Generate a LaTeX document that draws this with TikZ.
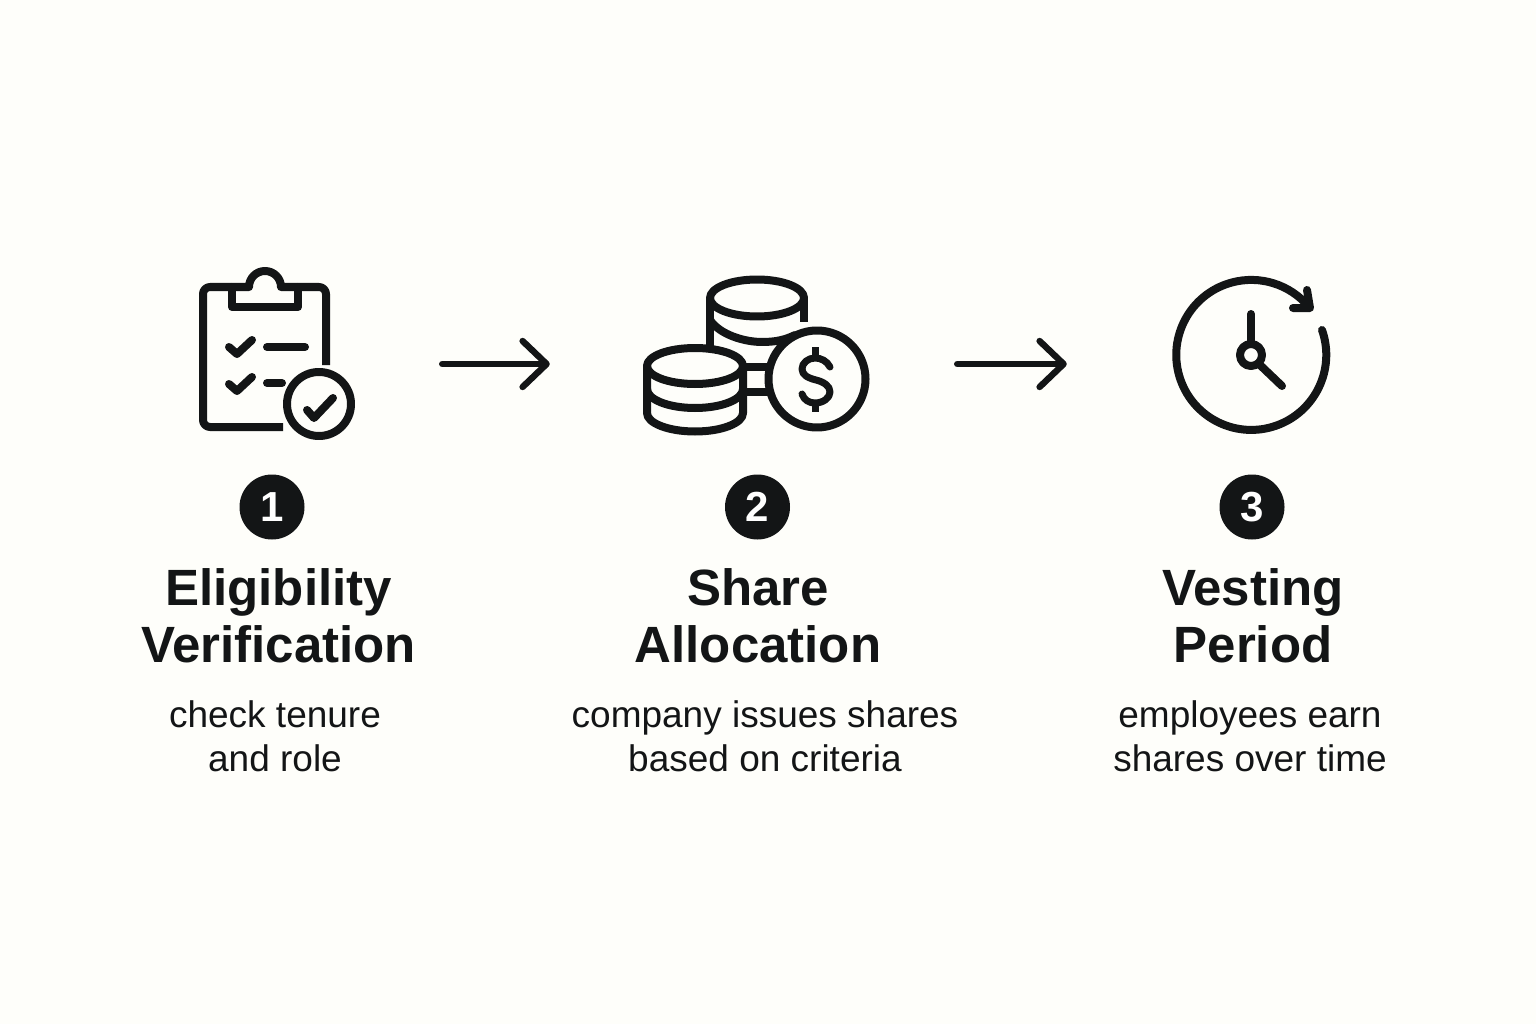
\documentclass[tikz,border=0pt]{standalone}
\usepackage{fontspec}
\setmainfont{Liberation Sans}
\usetikzlibrary{arrows.meta}
\definecolor{bgc}{HTML}{FEFEFA}
\definecolor{ink}{HTML}{131516}
\tikzset{
  iconline/.style={draw=ink,line width=8pt,line cap=round,line join=round},
  thinline/.style={draw=ink,line width=7pt,line cap=round,line join=round},
  iconbox/.style={inner sep=0pt,minimum height=160pt},
  flow/.style={draw=ink,line width=6.4pt,line cap=round,line join=round,-{Straight Barb[length=24pt,width=46pt,line width=6.4pt,round]}},
  badge/.style={circle,fill=ink,text=white,minimum size=65pt,inner sep=0pt,font=\fontsize{42}{42}\selectfont\bfseries},
  heading/.style={text=ink,align=center,inner sep=0pt,font=\fontsize{51}{57}\selectfont\bfseries},
  body/.style={text=ink,align=center,inner sep=0pt,font=\fontsize{37}{44}\selectfont}
}
\begin{document}
\begin{tikzpicture}[x=1pt,y=-1pt]
\path[fill=bgc] (0,0) rectangle (1536,1024);
\useasboundingbox (0,0) rectangle (1536,1024);

% anchor boxes for the icons
\node[iconbox,minimum width=334pt] (icon1) at (275,364) {};
\node[iconbox,minimum width=407pt] (icon2) at (753.5,364) {};
\node[iconbox,minimum width=368pt] (icon3) at (1251,364) {};

% clipboard
\draw[iconline,line cap=butt] (326,365) -- (326,294) arc[start angle=0,end angle=-90,radius=7] -- (281,287)
  arc[start angle=0,end angle=-180,radius=16] -- (210,287)
  arc[start angle=-90,end angle=-180,radius=7] -- (203,420)
  arc[start angle=180,end angle=90,radius=7] -- (283,427);
\draw[iconline] (232,287) -- (232,307) -- (298,307) -- (298,287);
\draw[iconline] (229,347) -- (237,354) -- (252,340);
\draw[iconline] (267,347) -- (305,347);
\draw[iconline] (229,384) -- (237,391) -- (252,377);
\draw[iconline] (267,383) -- (282,383);
\draw[iconline] (319,404) circle[radius=32];
\draw[iconline] (307,410) -- (314,418) -- (333,398);

% coins: back stack
\draw[iconline] (757,298) ellipse[x radius=47,y radius=18.5];
\draw[iconline,line cap=butt] (710,298) -- (710,346);
\draw[iconline,line cap=butt] (804,298) -- (804,322);
\draw[iconline] (710,320) .. controls (720,335) and (745,342) .. (762,342) .. controls (775,342) and (785,340) .. (795,335);
\draw[iconline,line cap=butt] (745,367) -- (772,367);
\draw[iconline,line cap=butt] (745,392) -- (772,392);
% coins: front stack
\draw[iconline,fill=bgc] (695,366) ellipse[x radius=48,y radius=18];
\draw[iconline] (647,366) -- (647,413) arc[start angle=180,end angle=0,x radius=48,y radius=18.5] -- (743,366);
\draw[iconline] (647,389) arc[start angle=180,end angle=0,x radius=48,y radius=19];
% coin
\draw[iconline,fill=bgc] (817,379) circle[radius=48.5];
\draw[thinline] (830,367) .. controls (827,361) and (821,358) .. (815,358)
  .. controls (808,358) and (802,363) .. (802,369)
  .. controls (802,375) and (808,378) .. (816,380)
  .. controls (824,382) and (830,386) .. (830,392)
  .. controls (830,398) and (823,403) .. (815,403)
  .. controls (809,403) and (804,400) .. (802,394);
\draw[thinline,line cap=butt] (815,347) -- (815,358);
\draw[thinline,line cap=butt] (815,403) -- (815,412);

% clock
\draw[iconline] (1322,330) arc[start angle=-19.4,end angle=316,radius=75];
\draw[iconline] (1307,290) -- (1310,308) -- (1293,308);
\draw[iconline] (1251,314) -- (1251,342);
\draw[iconline] (1260,365) -- (1282,386);
\draw[iconline] (1251,355) circle[radius=11];

% connectors
\draw[flow] (icon1) -- (icon2);
\draw[flow] (icon2) -- (icon3);

% badges
\node[badge] (b1) at (272,507) {1};
\node[badge] (b2) at (757.5,507) {2};
\node[badge] (b3) at (1252,507) {3};

% headings
\node[heading] (h1) at (278.5,616) {Eligibility\\Verification};
\node[heading] (h2) at (758,616) {Share\\Allocation};
\node[heading] (h3) at (1253,616) {Vesting\\Period};

% descriptions
\node[body] (d1) at (275,736) {check tenure\\and role};
\node[body] (d2) at (765,736) {company issues shares\\based on criteria};
\node[body] (d3) at (1250,736) {employees earn\\shares over time};
\end{tikzpicture}
\end{document}
